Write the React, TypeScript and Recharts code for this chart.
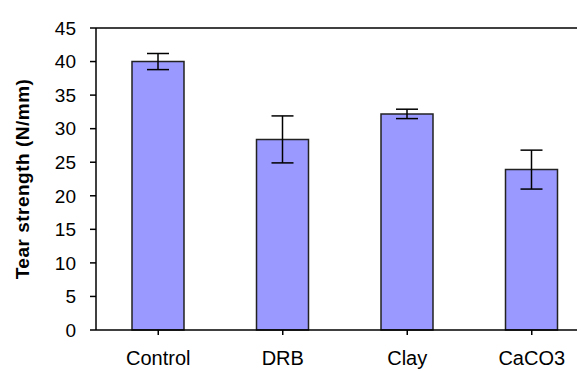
import { BarChart, Bar, XAxis, YAxis, ErrorBar, ReferenceLine } from 'recharts';

const CATEGORIES = ['Control', 'DRB', 'Clay', 'CaCO3'];
const STRENGTH = [40.0, 28.4, 32.2, 23.9];
const ERRORS = [1.2, 3.5, 0.7, 2.9];
const Y_TICKS = [0, 5, 10, 15, 20, 25, 30, 35, 40, 45];

const data = CATEGORIES.map((name, i) => ({ name, value: STRENGTH[i], err: ERRORS[i] }));

const FONT = 'Arial, "Liberation Sans", sans-serif';

export default function App() {
  return (
    <div style={{ width: 577, height: 363, overflow: 'hidden' }}>
      <BarChart
        width={600}
        height={363}
        data={data}
        margin={{ top: 20, right: 14, bottom: 11, left: 0 }}
      >
        <XAxis
          dataKey="name"
          axisLine={{ stroke: '#000', strokeWidth: 1.5 }}
          tickLine={{ stroke: '#000', strokeWidth: 1.5 }}
          tickSize={5}
          height={30}
          tick={{ fill: '#000', fontSize: 20, fontFamily: FONT }}
          tickMargin={16}
        />
        <YAxis
          domain={[0, 45]}
          ticks={Y_TICKS}
          interval={0}
          width={88}
          axisLine={{ stroke: '#000', strokeWidth: 1.5 }}
          tickLine={{ stroke: '#000', strokeWidth: 1.5 }}
          tickSize={6}
          tickMargin={14}
          tick={{ fill: '#000', fontSize: 19, fontFamily: FONT }}
          label={{
            value: 'Tear strength (N/mm)',
            angle: -90,
            position: 'insideLeft',
            offset: 14,
            style: { textAnchor: 'middle', fill: '#000', fontSize: 19, fontWeight: 'bold', fontFamily: FONT, letterSpacing: 0.5 },
          }}
        />
        <ReferenceLine y={45} stroke="#000" strokeWidth={1.5} />
        <Bar dataKey="value" fill="#9999FF" stroke="#222" strokeWidth={1.5} barSize={52} isAnimationActive={false}>
          <ErrorBar dataKey="err" width={11} stroke="#000" strokeWidth={1.5} direction="y" />
        </Bar>
      </BarChart>
    </div>
  );
}
